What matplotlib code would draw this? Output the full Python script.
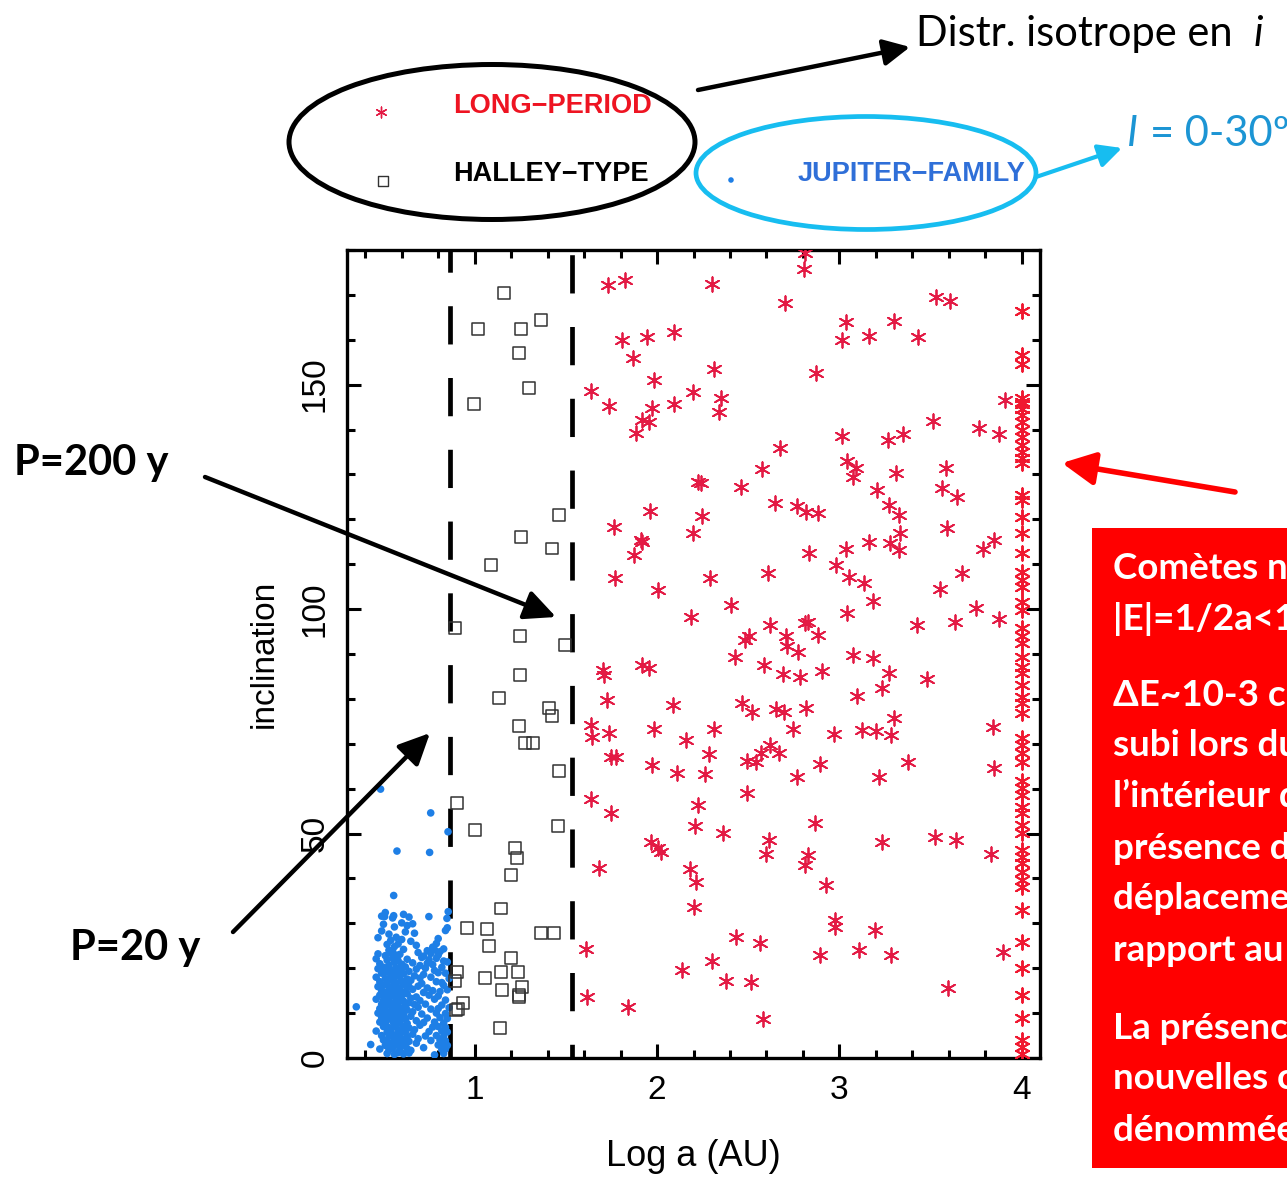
import matplotlib
matplotlib.use('Agg')
import matplotlib.pyplot as plt
from matplotlib.patches import Ellipse, FancyArrowPatch, Rectangle
from matplotlib.ticker import MultipleLocator, FixedLocator
import numpy as np

# ---------------- data ----------------
# Long-period comets: (log a, inclination)
lp_points = [
    (1.731,172.2),(1.827,173.3),(1.810,159.9),(1.945,160.7),(2.093,161.8),(1.868,155.9),(1.984,151.0),
    (1.640,148.6),(2.198,148.4),(1.737,145.2),(1.975,144.7),(2.093,145.8),(1.920,142.1),(1.956,141.7),
    (1.887,139.2),(2.225,128.4),(1.960,121.9),(1.762,118.4),(2.198,116.9),(1.914,115.5),(1.920,115.0),
    (1.872,112.1),(1.768,106.9),(2.006,104.3),(2.189,98.3),
    (1.704,86.4),(1.709,85.3),(1.920,87.5),(1.956,86.8),(1.728,79.8),(2.088,78.6),(1.640,74.2),
    (1.644,71.6),(1.737,72.3),(1.984,73.2),(2.161,70.8),(1.750,67.1),(1.773,67.0),(1.973,65.3),
    (2.112,63.4),(1.640,57.6),(1.750,54.6),(2.225,56.4),(2.207,51.7),(1.965,48.2),(2.006,46.7),
    (2.024,46.0),(1.682,42.3),(2.179,42.0),(2.216,39.3),(2.203,33.7),(1.613,24.2),(2.139,19.6),
    (1.616,13.7),(1.841,11.4),
    (2.810,179.3),(2.805,175.7),(2.304,172.4),(2.700,168.3),(3.529,169.6),(3.609,168.7),(3.035,164.0),
    (3.298,164.2),(3.012,159.9),(3.160,160.8),(3.432,160.7),(2.311,153.5),(2.874,152.7),(2.353,147.0),
    (2.340,143.8),(3.907,146.6),(3.017,138.6),(3.267,137.7),(3.350,138.9),(3.511,142.0),(3.766,140.3),
    (3.876,138.9),(2.673,136.0),(2.578,131.2),(3.039,133.1),(3.090,131.4),(3.075,129.5),(3.309,130.4),
    (3.584,131.4),(2.243,128.2),(2.463,127.3),(3.207,126.5),(3.560,126.9),(3.646,125.0),(2.646,123.7),
    (2.765,123.0),(2.816,121.7),(2.883,121.5),(3.273,123.2),(3.327,121.0),(2.249,120.7),(3.591,118.0),
    (3.335,116.9),(3.163,115.0),(3.280,114.8),(3.327,113.2),(3.035,113.3),(2.834,112.6),(3.847,115.5),
    (3.785,113.3),(2.984,109.8),(3.053,107.1),(3.134,105.9),(2.293,106.9),(2.609,108.1),(3.675,108.1),
    (3.182,101.8),(3.554,104.4),(2.408,101.0),(3.748,100.3),(3.042,99.1),(3.876,97.7),(2.618,96.5),
    (2.810,96.8),(2.830,97.2),(2.883,94.2),(3.426,96.5),(3.633,97.2),(2.505,94.0),(2.481,93.1),
    (2.706,94.0),(2.710,91.8),(2.773,90.5),(2.426,89.4),(3.075,89.8),(3.185,89.0),
    (3.273,85.7),(2.585,87.5),(2.691,85.5),(2.783,84.8),(2.902,86.2),(3.481,84.4),(3.236,82.5),
    (3.094,80.6),(2.468,79.1),(2.523,77.1),(2.655,77.7),(2.695,77.1),(2.816,77.9),(3.298,75.7),
    (2.311,73.2),(2.746,73.2),(2.969,72.1),(3.125,73.1),(3.200,72.8),(3.282,72.0),(3.843,73.8),
    (2.285,67.7),(2.494,66.2),(2.545,66.0),(2.569,67.9),(2.618,69.7),(2.669,68.0),(2.896,65.6),
    (3.377,66.0),(2.262,63.2),(2.765,62.7),(3.218,62.5),(3.847,64.5),(2.494,59.0),(2.362,50.1),
    (2.614,48.6),(2.596,45.4),(2.865,52.4),(3.234,48.2),(3.523,49.3),(3.637,48.6),(3.834,45.4),
    (2.828,45.2),(2.810,43.0),(2.925,38.5),(2.975,30.7),(2.975,29.2),(3.194,28.5),(2.432,27.0),
    (2.563,25.7),(2.896,22.9),(3.108,24.1),(3.282,22.9),(3.898,23.7),(2.304,21.7),(2.377,17.2),
    (2.514,17.0),(3.596,15.5),(2.581,8.6),
]
# Long-period comets piled up at the plot edge (log a >= 4)
lp_edge_loga = 4.0
lp_edge_incl = [166.5, 156.5, 154.5, 147.0, 146.2, 145.8, 144.5, 143.2, 141.7, 139.9, 138.4, 136.6,
                135.1, 133.6, 132.5, 125.4, 124.3, 120.6, 116.9, 112.4, 108.3, 106.5, 105.0, 101.6,
                99.8, 95.7, 93.9, 92.4, 89.4, 87.2, 85.7, 83.1, 80.5, 79.0, 76.8, 71.2, 69.7, 67.9,
                66.0, 61.6, 60.1, 58.6, 56.0, 54.5, 51.9, 50.1, 46.3, 44.8, 43.4, 41.5, 39.7, 38.2,
                33.0, 25.9, 20.0, 14.0, 8.8, 4.0, 2.5, 1.0]

# Halley-type comets
ht_points = [
    (1.161,170.5),(1.018,162.5),(1.256,162.3),(1.366,164.5),(1.241,157.0),(1.298,149.3),(0.996,145.6),
    (1.461,120.9),(1.256,116.1),(1.424,113.5),(1.088,109.8),(0.894,95.8),(1.247,94.0),(1.494,92.0),
    (1.251,85.3),(1.132,80.3),(1.406,77.9),(1.424,76.2),(1.241,73.9),(1.278,70.2),(1.320,70.1),
    (1.461,63.9),(0.903,56.9),(1.000,50.8),(1.457,51.7),(1.223,46.8),(1.232,44.5),(1.201,40.8),
    (1.143,33.3),(0.960,29.0),(1.068,28.7),(1.077,25.0),(1.366,27.9),(1.433,27.9),(1.201,22.2),
    (0.903,19.1),(0.890,17.2),(1.059,17.9),(1.143,19.1),(1.238,19.1),(1.150,15.1),(1.259,15.9),
    (1.241,14.0),(1.245,13.5),(0.936,12.2),(0.900,10.7),(0.910,11.0),(1.141,6.7),
]

# Jupiter-family comets
jf_points = [
    (0.484,59.9),(0.759,54.6),(0.854,50.4),(0.574,46.1),(0.753,45.8),(0.556,36.2),
    (0.49,31.6),(0.51,32.4),(0.55,31.2),(0.61,32.0),(0.64,31.4),(0.749,31.5),(0.848,31.1),(0.855,32.6),
    (0.556,31.7),(0.506,31.5),
    (0.50,29.8),(0.56,29.2),(0.60,30.1),(0.63,29.5),(0.66,29.9),(0.85,29.0),
    (0.49,28.3),(0.53,27.6),(0.62,28.1),(0.67,27.8),(0.84,28.4),
    (0.47,26.8),(0.54,26.2),(0.57,26.9),(0.60,26.4),(0.65,26.0),(0.80,26.6),
    (0.52,25.3),(0.56,24.8),(0.58,25.4),(0.68,25.1),(0.77,24.7),(0.79,25.5),
    (0.53,24.0),(0.55,23.8),(0.61,24.2),(0.74,23.9),(0.78,24.1),(0.81,23.7),(0.83,24.3),
    (0.47,23.2),(0.51,22.8),(0.54,23.4),(0.57,22.9),(0.59,23.1),(0.69,23.5),(0.72,22.7),(0.76,23.3),(0.80,22.9),
    (0.46,22.1),(0.52,21.8),(0.55,22.3),(0.58,21.7),(0.63,22.0),(0.71,22.4),(0.75,21.9),(0.79,22.2),(0.83,21.6),
    (0.48,21.0),(0.53,20.7),(0.56,21.3),(0.60,20.9),(0.66,21.2),(0.70,20.6),(0.74,21.1),(0.77,20.8),(0.85,21.4),
    (0.47,19.9),(0.50,20.2),(0.54,19.7),(0.57,20.1),(0.59,19.6),(0.62,20.3),(0.68,19.8),(0.73,20.0),(0.78,19.5),(0.82,20.2),
    (0.49,18.9),(0.52,19.2),(0.55,18.7),(0.58,19.1),(0.61,18.8),(0.64,19.3),(0.72,18.6),(0.80,19.0),(0.84,18.9),
    (0.46,18.0),(0.51,17.7),(0.54,18.2),(0.56,17.9),(0.59,18.1),(0.63,17.6),(0.67,18.3),(0.70,17.8),(0.76,18.0),(0.86,17.7),
    (0.48,17.0),(0.52,16.8),(0.55,17.2),(0.57,16.7),(0.60,17.1),(0.62,16.9),(0.65,17.3),(0.71,16.6),(0.79,17.0),(0.82,16.8),
    (0.47,15.9),(0.50,16.2),(0.53,15.8),(0.56,16.1),(0.58,15.7),(0.61,16.3),(0.64,15.9),(0.69,16.0),(0.74,15.6),(0.83,16.2),
    (0.49,15.0),(0.52,14.7),(0.54,15.2),(0.57,14.9),(0.59,15.1),(0.62,14.8),(0.66,15.3),(0.72,14.6),(0.77,15.0),(0.81,14.8),(0.85,15.2),
    (0.48,14.0),(0.51,13.8),(0.55,14.2),(0.56,13.7),(0.58,14.1),(0.60,13.9),(0.63,14.3),(0.68,13.6),(0.75,14.0),(0.80,13.8),
    (0.46,13.1),(0.50,12.8),(0.53,13.2),(0.57,12.9),(0.59,13.0),(0.61,12.7),(0.65,13.3),(0.70,12.8),(0.78,13.1),(0.84,12.9),
    (0.49,12.0),(0.52,11.8),(0.54,12.2),(0.56,11.9),(0.58,12.1),(0.62,11.7),(0.64,12.3),(0.67,11.9),(0.73,12.0),(0.82,11.8),
    (0.351,11.4),(0.48,11.0),(0.51,10.8),(0.55,11.2),(0.57,10.9),(0.60,11.1),(0.63,10.7),(0.69,11.3),(0.76,10.9),(0.80,11.0),(0.86,11.2),
    (0.47,10.0),(0.50,9.8),(0.53,10.2),(0.56,9.9),(0.59,10.1),(0.61,9.7),(0.66,10.3),(0.71,9.8),(0.79,10.0),(0.84,9.9),
    (0.49,9.0),(0.52,8.8),(0.54,9.2),(0.57,8.9),(0.60,9.1),(0.62,8.7),(0.65,9.3),(0.74,8.9),(0.81,9.0),(0.85,8.8),
    (0.48,8.0),(0.51,7.8),(0.55,8.2),(0.58,7.9),(0.59,8.1),(0.63,7.7),(0.68,8.3),(0.72,7.9),(0.78,8.0),(0.83,7.8),
    (0.50,7.0),(0.53,6.8),(0.56,7.2),(0.57,6.9),(0.61,7.1),(0.64,6.7),(0.70,7.3),(0.77,6.9),(0.80,7.0),(0.84,6.8),
    (0.46,6.0),(0.52,5.8),(0.54,6.2),(0.58,5.9),(0.60,6.1),(0.62,5.7),(0.67,6.3),(0.75,5.9),(0.82,6.0),(0.85,5.8),
    (0.49,5.0),(0.53,4.8),(0.55,5.2),(0.57,4.9),(0.59,5.1),(0.63,4.7),(0.66,5.3),(0.73,4.9),(0.79,5.0),(0.83,4.8),
    (0.50,4.0),(0.52,3.8),(0.56,4.2),(0.58,3.9),(0.61,4.1),(0.64,3.7),(0.69,4.3),(0.76,3.9),(0.81,4.0),(0.84,3.8),
    (0.43,3.0),(0.51,2.8),(0.54,3.2),(0.57,2.9),(0.60,3.1),(0.62,2.7),(0.68,3.3),(0.80,2.9),(0.83,3.0),(0.85,2.8),
    (0.48,2.0),(0.53,1.8),(0.55,2.2),(0.59,1.9),(0.63,2.1),(0.65,1.7),(0.72,2.3),(0.82,1.9),(0.84,2.0),
    (0.52,1.0),(0.56,0.8),(0.58,1.2),(0.61,0.9),(0.64,1.1),(0.78,0.7),(0.83,1.0),
]

# Orbital periods (years) marked by the dashed lines
period_lines = [20, 200]

x_ticks = [1, 2, 3, 4]
y_ticks = [0, 50, 100, 150]

legend_labels = ['LONG\u2212PERIOD', 'HALLEY\u2212TYPE', 'JUPITER\u2212FAMILY']

box_lines = [
    'Comètes nouvelles :', '|E|=1/2a<10-4 UA-1',
    '\u0394E~10-3 changement', 'subi lors du passage à', 'l\u2019intérieur du système,', 'présence d\u2019un pic en',
    'déplacement par', 'rapport au nuage',
    'La présence de', 'nouvelles comètes', 'dénommées ...',
]

# ---------------- fonts ----------------
plt.rcParams['font.family'] = ['Liberation Sans', 'DejaVu Sans']
calib = ['Lato', 'DejaVu Sans']

W, H = 1287, 1178
fig = plt.figure(figsize=(W / 100, H / 100), dpi=100)
fig.patch.set_facecolor('white')

ax = fig.add_axes([347 / W, 1 - 1058 / H, (1040 - 347) / W, (1058 - 250) / H])
ax.set_xlim(0.3, 4.1)
ax.set_ylim(0, 180)

# dashed period lines (Kepler: a = P^(2/3))
offsets = [3.4, 14.2]
for P, off in zip(period_lines, offsets):
    la = np.log10(P ** (2.0 / 3.0))
    ax.plot([la, la], [180, 0], color='black', lw=3.4,
            ls=(off, (8.1, 7.1)), dash_capstyle='butt', zorder=2)

jx, jy = zip(*jf_points)
ax.scatter(jx, jy, s=30, c='#1e7fe6', edgecolors='none', zorder=3)

hx, hy = zip(*ht_points)
ax.scatter(hx, hy, marker='s', s=74, facecolors='none', edgecolors='#333333',
           linewidths=1.1, zorder=4)

lx, ly = zip(*lp_points)
ax.scatter(lx, ly, marker=(6, 2, 0), s=110, c='#e31a44', linewidths=1.3, zorder=5)
ax.scatter([lp_edge_loga] * len(lp_edge_incl), lp_edge_incl, marker=(6, 2, 0), s=110,
           c='#f01830', linewidths=1.4, zorder=5)

# axes styling
for sp in ax.spines.values():
    sp.set_linewidth(2.4)
ax.xaxis.set_major_locator(FixedLocator(x_ticks))
ax.xaxis.set_minor_locator(MultipleLocator(0.2))
ax.yaxis.set_major_locator(FixedLocator(y_ticks))
ax.yaxis.set_minor_locator(MultipleLocator(10))
ax.tick_params(which='both', direction='in', top=True, right=True, width=2.2)
ax.tick_params(which='major', length=10, labelsize=24)
ax.tick_params(which='minor', length=6)
ax.tick_params(axis='x', pad=12)
ax.tick_params(axis='y', pad=12, labelrotation=90)
for lab in ax.get_yticklabels():
    lab.set_va('center')
ax.set_xlabel('Log a (AU)', fontsize=26, labelpad=24)
ax.set_ylabel('inclination', fontsize=24, labelpad=14)

# ---------------- overlay for annotations ----------------
ov = fig.add_axes([0, 0, 1, 1], zorder=10)
ov.set_xlim(0, W)
ov.set_ylim(H, 0)
ov.axis('off')
ov.patch.set_alpha(0)

ov.add_patch(Ellipse((492, 142), 406, 155, fill=False, ec='black', lw=3.6))
ov.add_patch(Ellipse((866, 173), 340, 113, fill=False, ec='#17bdf0', lw=3.4))

# legend markers + labels
ov.scatter([381], [112], marker=(6, 2, 0), s=60, c='#e31a44', linewidths=1.0)
ov.scatter([383], [181], marker='s', s=50, facecolors='none', edgecolors='#333333', linewidths=1.0)
ov.scatter([731], [180], s=16, c='#1e7fe6', edgecolors='none')
lfs = 19.5
ov.text(453, 106, legend_labels[0], color='#ee1422', fontsize=lfs, fontweight='bold',
        ha='left', va='center')
ov.text(453, 174, legend_labels[1], color='black', fontsize=lfs, fontweight='bold',
        ha='left', va='center')
ov.text(798, 174, legend_labels[2], color='#2f6fd8', fontsize=lfs, fontweight='bold',
        ha='left', va='center')

def arrow(p0, p1, color, lw, hw, hl):
    ov.add_patch(FancyArrowPatch(p0, p1, arrowstyle=f'-|>,head_width={hw},head_length={hl}',
                                 mutation_scale=10, color=color, lw=lw, shrinkA=0, shrinkB=0))

arrow((698, 90), (910, 47), 'black', 3.2, 0.8, 1.6)
arrow((1036, 177), (1122, 148), '#17bdf0', 3.0, 0.7, 1.4)
arrow((205, 477), (556, 617), 'black', 3.2, 0.9, 1.9)
arrow((233, 932), (430, 733), 'black', 3.2, 0.9, 1.9)
arrow((1235, 492), (1062, 463), '#ff0000', 4.0, 1.0, 2.0)

ov.text(916, 46, 'Distr. isotrope en', fontsize=30, family=calib, ha='left', va='baseline', color='black')
ov.text(1254, 46, 'i', fontsize=30, family=calib, style='italic', ha='left', va='baseline', color='black')
ov.text(1127, 146, 'I', fontsize=30, family=calib, style='italic', ha='left', va='baseline', color='#1c95d4')
ov.text(1150, 146, '= 0-30º', fontsize=30, family=calib, ha='left', va='baseline', color='#1c95d4')

ov.text(14, 475, 'P=200 y', fontsize=30, fontweight='bold', family=calib, ha='left', va='baseline')
ov.text(70, 960, 'P=20 y', fontsize=30, fontweight='bold', family=calib, ha='left', va='baseline')

ov.add_patch(Rectangle((1092, 528), 260, 640, fc='#ff0000', ec='none'))
box_y = [579, 630, 706, 756, 807, 859, 909, 961, 1039, 1089, 1141]
for yb, txt in zip(box_y, box_lines):
    ov.text(1113, yb, txt, fontsize=26.5, fontweight='bold', family=calib, color='white',
            ha='left', va='baseline', clip_on=False)

fig.savefig('out.png', dpi=100)
